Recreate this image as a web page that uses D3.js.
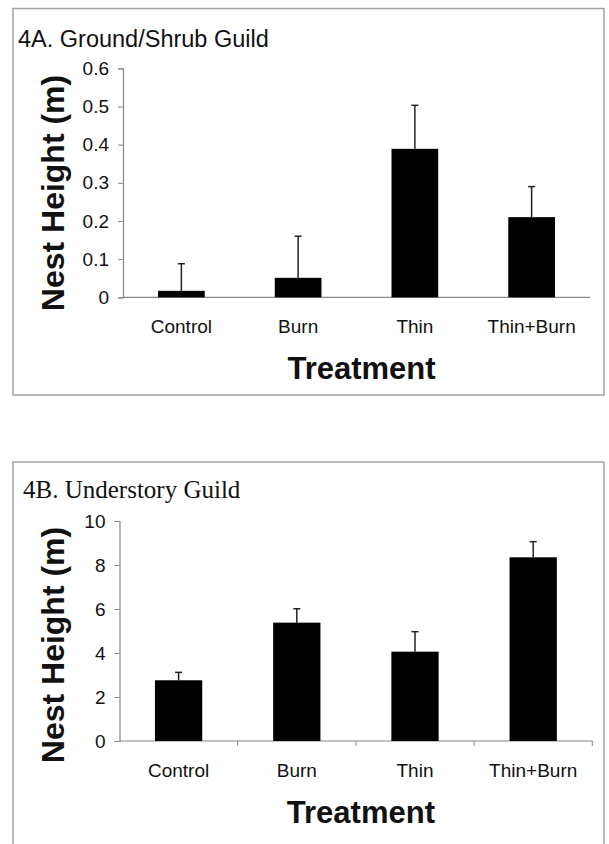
<!DOCTYPE html>
<html><head><meta charset="utf-8">
<script src="https://cdn.jsdelivr.net/npm/d3@7"></script>
<style>body{margin:0;background:#fff}svg{display:block}</style>
</head><body>
<script>
const categories = ["Control", "Burn", "Thin", "Thin+Burn"];
const groundMeans = [0.017, 0.051, 0.389, 0.21];
const groundUpper = [0.088, 0.16, 0.503, 0.29];
const groundTicks = [0, 0.1, 0.2, 0.3, 0.4, 0.5, 0.6];
const underMeans = [2.76, 5.38, 4.06, 8.35];
const underUpper = [3.12, 6.01, 4.97, 9.06];
const underTicks = [0, 2, 4, 6, 8, 10];

const svg = d3.select("body").append("svg").attr("width", 609).attr("height", 844);
const sans = "'Liberation Sans', Arial, sans-serif";

function panel(o) {
  const g = svg.append("g");
  g.append("rect").attr("x", 13).attr("y", o.boxTop).attr("width", 591).attr("height", o.boxH)
    .attr("fill", "none").attr("stroke", "#a3a3a3").attr("stroke-width", 1.5);
  g.append("text").attr("x", o.titleX).attr("y", o.titleY).text(o.title)
    .attr("font-family", o.titleFont).attr("font-size", o.titleSize).attr("fill", "#111");

  const x = d3.scaleBand().domain(categories).range([o.x0, o.x1]).paddingInner(0.6).paddingOuter(0.3);
  const y = d3.scaleLinear().domain([0, o.max]).range([o.y0, o.yTop]);

  const ya = g.append("g").attr("transform", `translate(${o.x0},0)`)
    .call(d3.axisLeft(y).tickValues(o.ticks).tickSize(5).tickPadding(9).tickFormat(d3.format("")));
  ya.select(".domain").attr("stroke", "#888").attr("stroke-width", 1.2);
  ya.selectAll(".tick line").attr("stroke", "#888");
  ya.selectAll("text").attr("font-family", sans).attr("font-size", 19).attr("fill", "#111");

  const xa = g.append("g").attr("transform", `translate(0,${o.y0})`)
    .call(d3.axisBottom(x).tickSize(0).tickPadding(0));
  xa.select(".domain").attr("stroke", "#888").attr("stroke-width", 1.2).attr("d", `M${o.x0},0H${o.x1}`);
  xa.selectAll(".tick text").attr("font-family", sans).attr("font-size", 19).attr("fill", "#111")
    .attr("y", o.labelDy).attr("dy", "0.35em");
  if (o.xTicks) {
    const edges = d3.range(categories.length + 1).map(i => o.x0 + i * x.step());
    xa.selectAll(".edge").data(edges.slice(1)).join("line").attr("class", "edge")
      .attr("x1", d => d).attr("x2", d => d).attr("y1", 0).attr("y2", 5).attr("stroke", "#888");
  }

  const bw = x.bandwidth();
  g.selectAll(".err").data(categories).join("line").attr("class", "err")
    .attr("x1", d => x(d) + bw / 2).attr("x2", d => x(d) + bw / 2)
    .attr("y1", (d, i) => y(o.means[i])).attr("y2", (d, i) => y(o.upper[i]))
    .attr("stroke", "#222").attr("stroke-width", 1.5);
  g.selectAll(".cap").data(categories).join("line").attr("class", "cap")
    .attr("x1", d => x(d) + bw / 2 - 3.5).attr("x2", d => x(d) + bw / 2 + 3.5)
    .attr("y1", (d, i) => y(o.upper[i])).attr("y2", (d, i) => y(o.upper[i]))
    .attr("stroke", "#222").attr("stroke-width", 1.5);
  g.selectAll(".bar").data(categories).join("rect").attr("class", "bar")
    .attr("x", d => x(d)).attr("width", bw)
    .attr("y", (d, i) => y(o.means[i])).attr("height", (d, i) => o.y0 - y(o.means[i]))
    .attr("fill", "#000");

  g.append("text").attr("x", (o.x0 + o.x1) / 2 + 5).attr("y", o.treatY).attr("text-anchor", "middle")
    .attr("dy", "0.35em").attr("font-family", sans).attr("font-weight", "bold").attr("font-size", 31)
    .attr("fill", "#111").text("Treatment");
  g.append("text").attr("transform", `translate(64,${o.ylabC}) rotate(-90)`).attr("text-anchor", "middle")
    .attr("font-family", sans).attr("font-weight", "bold").attr("font-size", 32)
    .attr("fill", "#111").text("Nest Height (m)");
}

panel({boxTop: 8.5, boxH: 386.5, title: "4A. Ground/Shrub Guild", titleX: 18, titleY: 46.5,
  titleFont: sans, titleSize: 23.5, x0: 123, x1: 590, y0: 297.3, yTop: 68.3, max: 0.6,
  ticks: groundTicks, means: groundMeans, upper: groundUpper, labelDy: 29, treatY: 368,
  ylabC: 193, xTicks: false});
panel({boxTop: 462, boxH: 400, title: "4B. Understory Guild", titleX: 23, titleY: 498.3,
  titleFont: "'Liberation Serif', 'DejaVu Serif', serif", titleSize: 25, x0: 119.5, x1: 592.3,
  y0: 741, yTop: 521, max: 10, ticks: underTicks, means: underMeans, upper: underUpper,
  labelDy: 29, treatY: 812, ylabC: 645, xTicks: true});
</script>
</body></html>
